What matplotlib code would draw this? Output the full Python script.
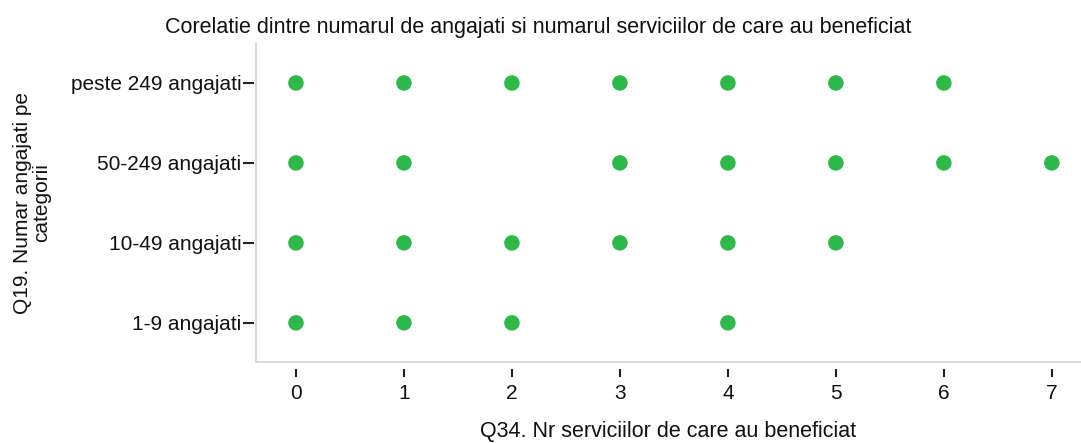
import numpy as np
import matplotlib.pyplot as plt

plt.rcParams['font.family'] = ['Liberation Sans', 'DejaVu Sans']

categorii = ["1-9 angajati", "10-49 angajati", "50-249 angajati", "peste 249 angajati"]

# numarul de servicii pentru fiecare categorie de angajati
servicii_1_9 = [0, 1, 2, 4]
servicii_10_49 = [0, 1, 2, 3, 4, 5]
servicii_50_249 = [0, 1, 3, 4, 5, 6, 7]
servicii_peste_249 = [0, 1, 2, 3, 4, 5, 6]

grupe = [servicii_1_9, servicii_10_49, servicii_50_249, servicii_peste_249]
xs = []
ys = []
for i, g in enumerate(grupe):
    xs += g
    ys += [i] * len(g)

fig = plt.figure(figsize=(10.81, 4.43), dpi=100)
ax = fig.add_axes([256 / 1081, 1 - 362 / 443, (1081 - 256) / 1081, (362 - 43) / 443])

ax.scatter(xs, ys, s=125, color="#2fb84a", edgecolors="none", zorder=3)

ax.set_xlim(-0.37, 7.27)
ax.set_ylim(-0.49, 3.5)
ax.set_xticks(range(8))
ax.set_yticks(range(len(categorii)))
ax.set_yticklabels(categorii)

for s in ["top", "right"]:
    ax.spines[s].set_visible(False)
ax.spines["bottom"].set_position(("outward", 5))
ax.spines["left"].set_position(("outward", 1.5))
ax.spines["bottom"].set_color("none")
ax.spines["left"].set_color("none")

# chenarul gri al zonei de desen
ax.plot([0, 1], [0, 0], transform=ax.transAxes, color="#d4d4d4", lw=1.2, clip_on=False)
ax.plot([0, 0], [0, 1], transform=ax.transAxes, color="#d4d4d4", lw=1.2, clip_on=False)

ax.tick_params(axis="x", length=6, width=1.5, color="#222222", pad=5, labelsize=15)
ax.tick_params(axis="y", length=8, width=1.5, color="#222222", pad=1, labelsize=15)
for lab in ax.get_xticklabels() + ax.get_yticklabels():
    lab.set_color("#111111")

# titlul e centrat pe toata figura
fig.text(0.498, 1 - 33 / 443, "Corelatie dintre numarul de angajati si numarul serviciilor de care au beneficiat",
         fontsize=15.5, ha="center", va="baseline", color="#111111")
ax.set_xlabel("Q34. Nr serviciilor de care au beneficiat", fontsize=15.5, labelpad=13, color="#111111")
ax.set_ylabel("Q19. Numar angajati pe\ncategorii", fontsize=15, labelpad=14, linespacing=1.05,
              color="#111111")

fig.savefig("out.png", dpi=100)
